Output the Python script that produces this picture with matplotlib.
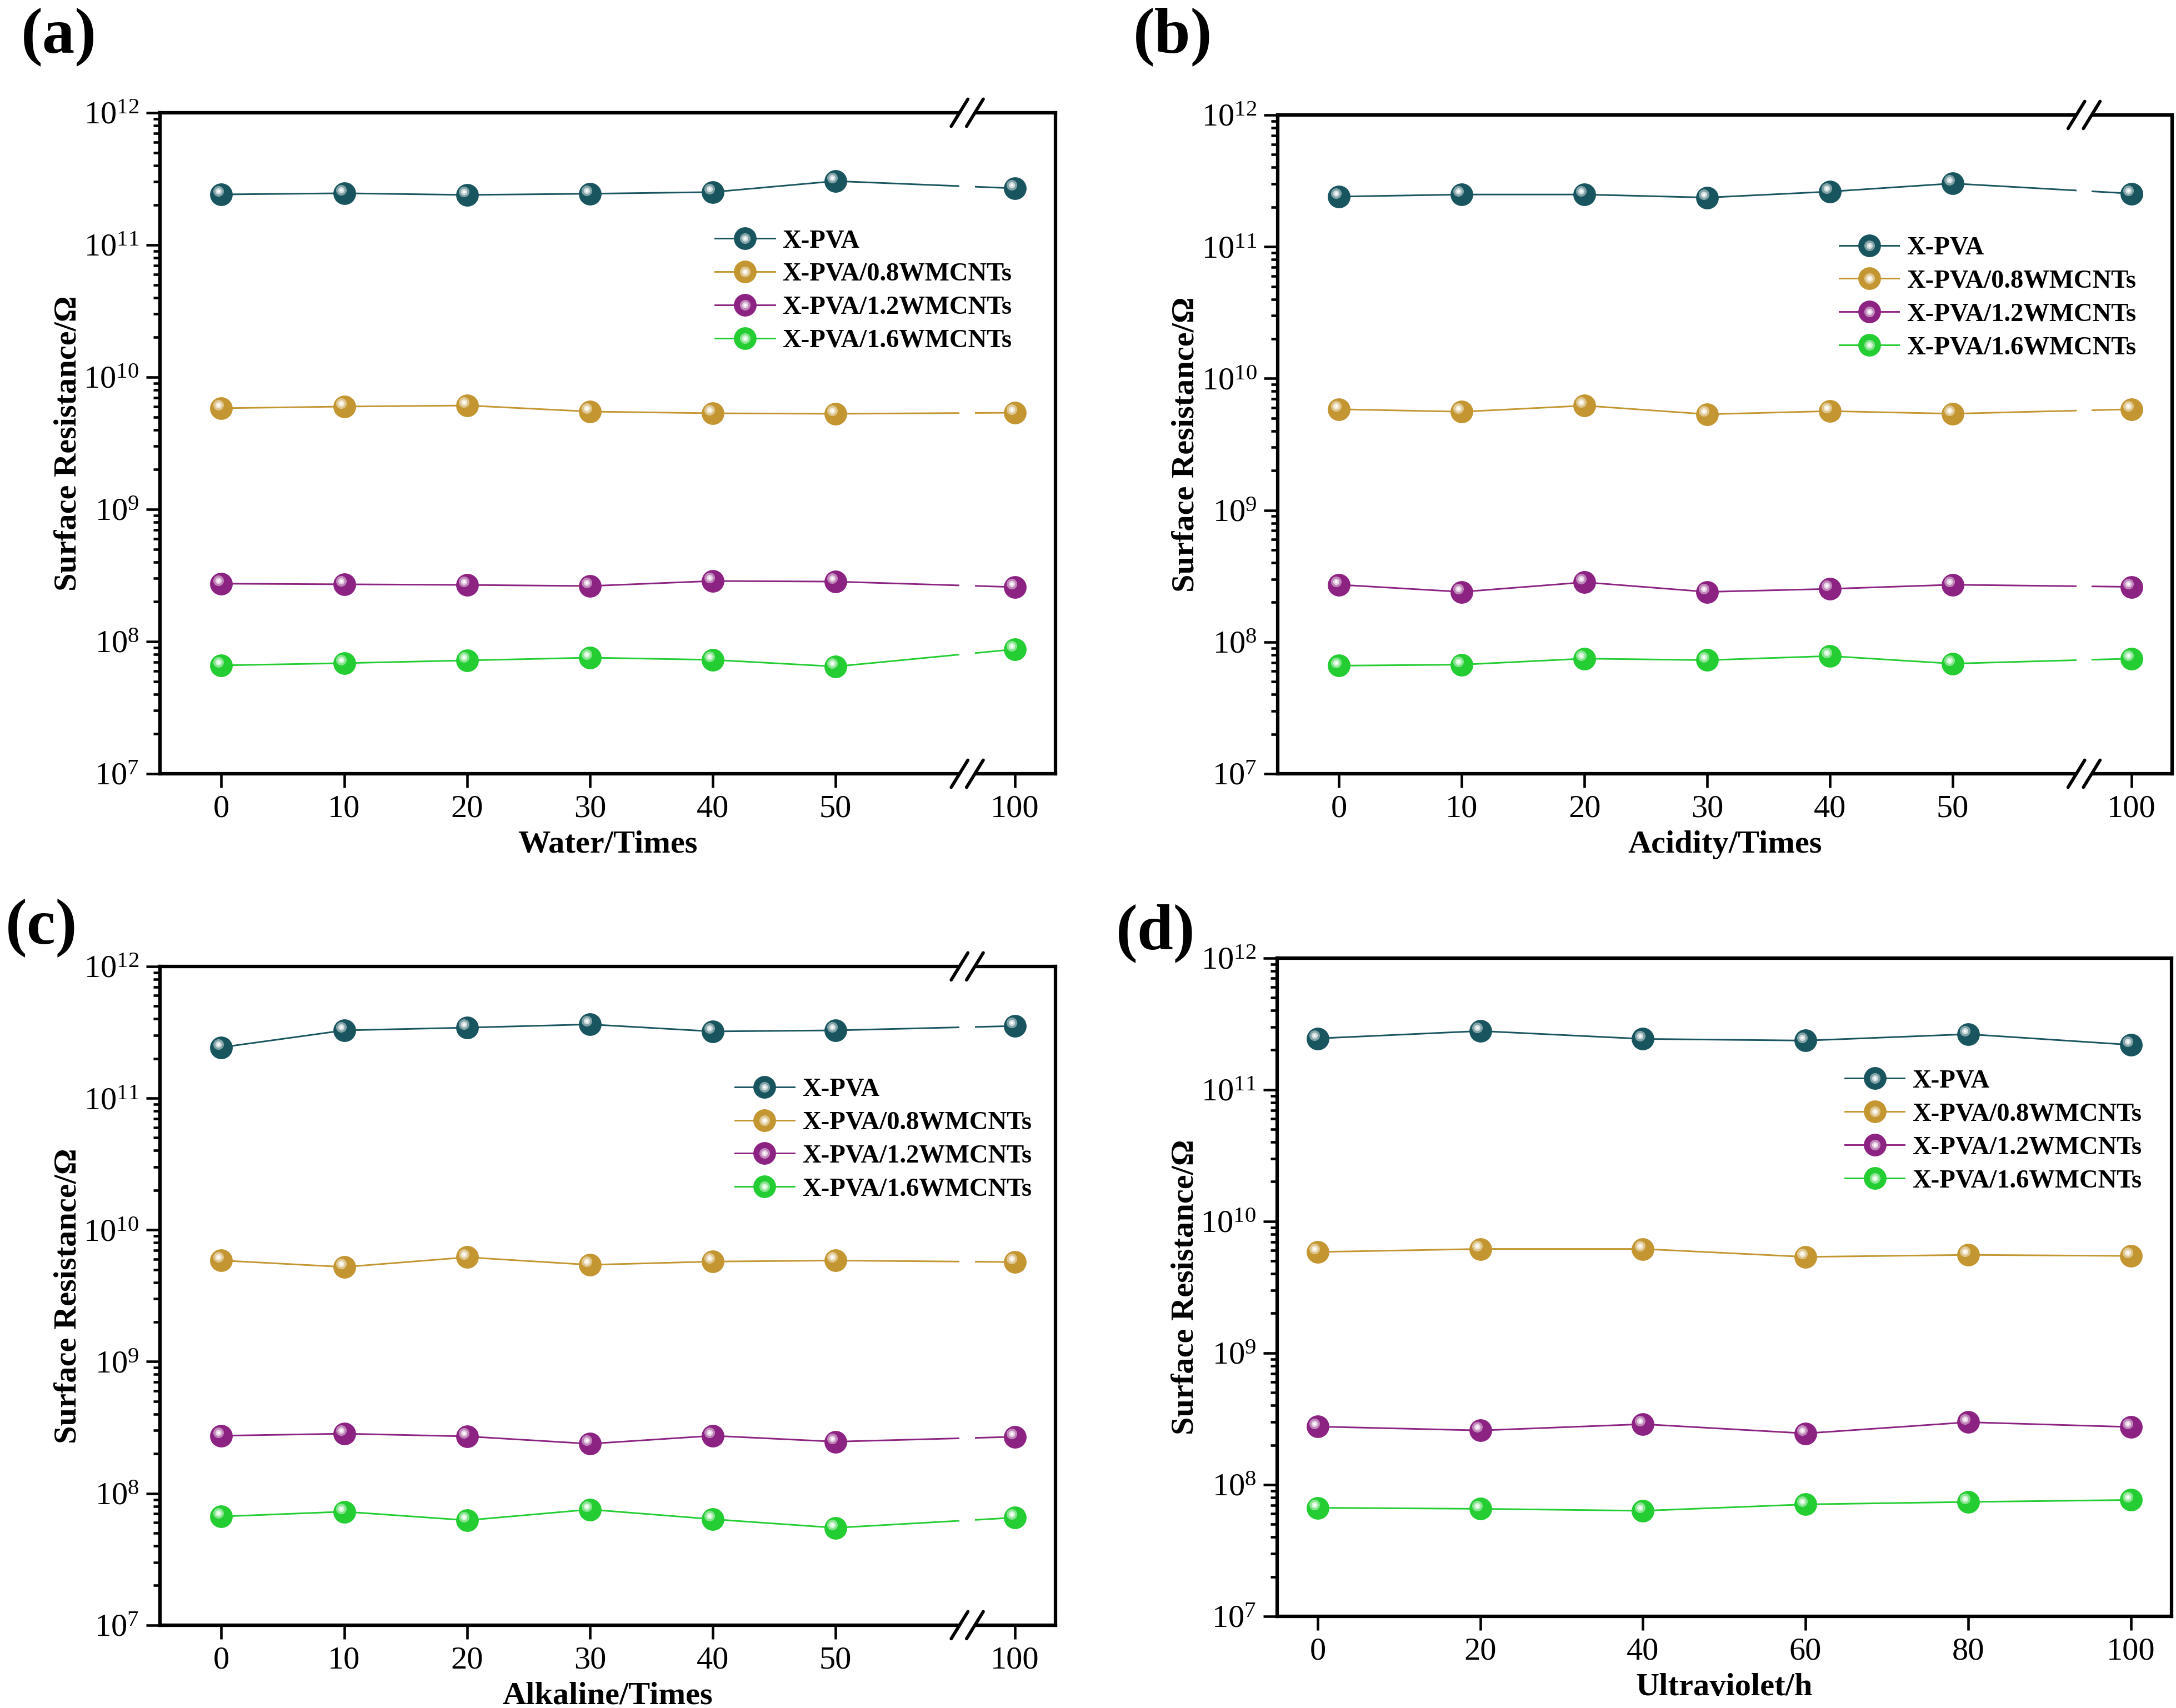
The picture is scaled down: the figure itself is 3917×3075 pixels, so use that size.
import numpy as np
import matplotlib.pyplot as plt
from matplotlib.transforms import offset_copy, blended_transform_factory
from matplotlib.patches import Rectangle
from matplotlib.lines import Line2D
from matplotlib.legend_handler import HandlerTuple
from matplotlib.ticker import LogLocator, NullFormatter
from matplotlib.colors import to_rgb

plt.rcParams['font.family'] = ['Liberation Serif', 'DejaVu Serif']
plt.rcParams['mathtext.fontset'] = 'custom'
plt.rcParams['mathtext.rm'] = 'Liberation Serif'
plt.rcParams['mathtext.it'] = 'Liberation Serif:italic'
plt.rcParams['mathtext.bf'] = 'Liberation Serif:bold'

# data
x_times = [0, 10, 20, 30, 40, 50, 100]
x_uv = [0, 20, 40, 60, 80, 100]

labels = ['X-PVA', 'X-PVA/0.8WMCNTs', 'X-PVA/1.2WMCNTs', 'X-PVA/1.6WMCNTs']
colors = ['#19555f', '#c39632', '#8c2382', '#23cd32']

water_pva = [2.41e11, 2.46e11, 2.39e11, 2.44e11, 2.51e11, 3.04e11, 2.68e11]
water_08 = [5.82e9, 5.99e9, 6.10e9, 5.49e9, 5.33e9, 5.28e9, 5.38e9]
water_12 = [2.74e8, 2.71e8, 2.68e8, 2.63e8, 2.87e8, 2.84e8, 2.58e8]
water_16 = [6.60e7, 6.86e7, 7.20e7, 7.55e7, 7.27e7, 6.47e7, 8.74e7]

acid_pva = [2.40e11, 2.49e11, 2.49e11, 2.36e11, 2.62e11, 3.02e11, 2.53e11]
acid_08 = [5.84e9, 5.59e9, 6.22e9, 5.35e9, 5.65e9, 5.40e9, 5.84e9]
acid_12 = [2.72e8, 2.40e8, 2.84e8, 2.40e8, 2.53e8, 2.72e8, 2.62e8]
acid_16 = [6.61e7, 6.73e7, 7.48e7, 7.28e7, 7.82e7, 6.85e7, 7.48e7]

alk_pva = [2.43e11, 3.27e11, 3.43e11, 3.63e11, 3.21e11, 3.27e11, 3.53e11]
alk_08 = [5.86e9, 5.23e9, 6.20e9, 5.43e9, 5.75e9, 5.86e9, 5.70e9]
alk_12 = [2.74e8, 2.84e8, 2.71e8, 2.38e8, 2.74e8, 2.47e8, 2.69e8]
alk_16 = [6.68e7, 7.27e7, 6.25e7, 7.55e7, 6.37e7, 5.48e7, 6.55e7]

uv_pva = [2.45e11, 2.79e11, 2.43e11, 2.36e11, 2.64e11, 2.19e11]
uv_08 = [5.85e9, 6.17e9, 6.17e9, 5.37e9, 5.56e9, 5.46e9]
uv_12 = [2.76e8, 2.58e8, 2.88e8, 2.45e8, 2.98e8, 2.74e8]
uv_16 = [6.67e7, 6.55e7, 6.33e7, 7.08e7, 7.39e7, 7.65e7]

# where the categories sit on the broken axis (100 is drawn after the break)
broken_pos = [0, 10, 20, 30, 40, 50, 64.6]
break_x = [60.1, 61.35]

MS = 9.8
LW = 0.7


def lighten(c, f):
    r = np.array(to_rgb(c))
    return tuple(r + (1 - r) * f)


def sphere_layers(color):
    # (size, face colour) of the highlight spots drawn on top of the ball
    return [(4.6, lighten(color, 0.45)), (2.7, lighten(color, 0.8)), (1.1, 'white')]


def draw_series(ax, xs, ys, color):
    ax.plot(xs, ys, '-', color=color, lw=LW, zorder=2)
    ax.plot(xs, ys, 'o', ms=MS, mfc=color, mec=color, mew=0, zorder=3)
    tr = offset_copy(ax.transData, fig=ax.figure, x=-1.4, y=1.4, units='points')
    for i, (s, c) in enumerate(sphere_layers(color)):
        ax.plot(xs, ys, 'o', ms=s, mfc=c, mew=0, transform=tr, zorder=4 + i)


def legend_handle(color):
    parts = [Line2D([], [], color=color, lw=LW, marker='o', ms=MS, mfc=color, mew=0)]
    for s, c in sphere_layers(color):
        parts.append(Line2D([], [], ls='none', marker='o', ms=s, mfc=c, mew=0))
    return tuple(parts)


def setup(ax, xlim, ticks, ticklabels, xlabel, anchor):
    ax.set_yscale('log')
    ax.set_ylim(1e7, 1e12)
    ax.set_xlim(*xlim)
    ax.yaxis.set_major_locator(LogLocator(base=10, numticks=10))
    ax.yaxis.set_minor_locator(LogLocator(base=10, subs=np.arange(2, 10), numticks=100))
    ax.yaxis.set_minor_formatter(NullFormatter())
    ax.set_xticks(ticks)
    ax.set_xticklabels(ticklabels)
    ax.tick_params(which='both', direction='out', top=False, right=False)
    ax.tick_params(which='major', length=6, width=1.1, labelsize=14, pad=3)
    ax.tick_params(which='minor', length=3, width=1.1)
    for sp in ax.spines.values():
        sp.set_linewidth(1.5)
    ax.set_xlabel(xlabel, fontsize=14, fontweight='bold', labelpad=3)
    ax.set_ylabel('Surface Resistance/Ω', fontsize=14, fontweight='bold', labelpad=0.5)
    handles = [legend_handle(c) for c in colors]
    ax.legend(handles, labels, handler_map={tuple: HandlerTuple(ndivide=1, pad=0)},
              loc='upper left', bbox_to_anchor=anchor, frameon=False,
              prop={'weight': 'bold', 'size': 11.2}, handlelength=2.3,
              handletextpad=0.3, labelspacing=0.37, borderpad=0, borderaxespad=0)


def axis_break(ax):
    tr = blended_transform_factory(ax.transData, ax.transAxes)
    ax.add_patch(Rectangle((break_x[0], -0.015), break_x[1] - break_x[0], 1.03,
                           transform=tr, facecolor='white', edgecolor='none',
                           clip_on=False, zorder=2.6))
    dx, dy = 0.68, 0.0206
    for y0 in (0, 1):
        for xc in break_x:
            ax.add_line(Line2D([xc - dx, xc + dx], [y0 - dy, y0 + dy], color='black',
                               lw=1.4, solid_capstyle='round', transform=tr,
                               clip_on=False, zorder=2.7))


fig = plt.figure(figsize=(3917 / 300, 3075 / 300), dpi=300)

ax_a = fig.add_axes([0.0735, 0.547, 0.4115, 0.387])
ax_b = fig.add_axes([0.5872, 0.547, 0.411, 0.3857])
ax_c = fig.add_axes([0.0735, 0.0485, 0.4115, 0.3857])
ax_d = fig.add_axes([0.5869, 0.0537, 0.411, 0.3854])

panels = [
    (ax_a, [water_pva, water_08, water_12, water_16], 'Water/Times', (0.62, 0.824)),
    (ax_b, [acid_pva, acid_08, acid_12, acid_16], 'Acidity/Times', (0.628, 0.816)),
    (ax_c, [alk_pva, alk_08, alk_12, alk_16], 'Alkaline/Times', (0.642, 0.831)),
]

for ax, series, xlabel, anchor in panels:
    for ys, c in zip(series, colors):
        draw_series(ax, broken_pos, ys, c)
    setup(ax, (-5, 67.9), broken_pos, [str(v) for v in x_times], xlabel, anchor)
    axis_break(ax)

for ys, c in zip([uv_pva, uv_08, uv_12, uv_16], colors):
    draw_series(ax_d, x_uv, ys, c)
setup(ax_d, (-5, 105), x_uv, [str(v) for v in x_uv], 'Ultraviolet/h', (0.635, 0.831))

for txt, x, y in [('(a)', 0.027, 0.9785), ('(b)', 0.539, 0.9785),
                  ('(c)', 0.019, 0.457), ('(d)', 0.531, 0.4537)]:
    fig.text(x, y, txt, fontsize=28, fontweight='bold', ha='center', va='center')

fig.savefig('out.png', dpi=300)
